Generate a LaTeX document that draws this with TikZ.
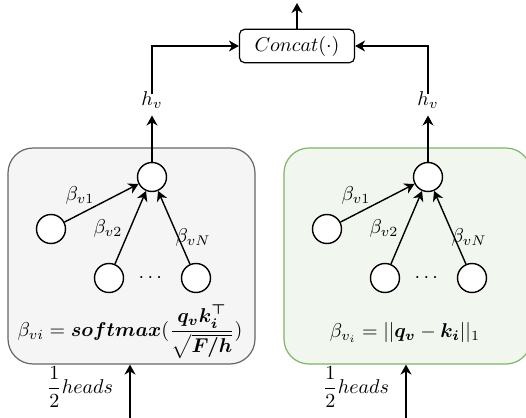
\documentclass[tikz,border=0pt]{standalone}
\usepackage{amsmath}
\usepackage{amssymb}
\usepackage{xcolor}
\usepackage{tikz}
\usetikzlibrary{arrows.meta}
\definecolor{boxGray}{HTML}{F5F5F5}
\definecolor{edgeGray}{HTML}{666666}
\definecolor{boxGreen}{HTML}{F1F6EF}
\definecolor{edgeGreen}{HTML}{82B366}

\begin{document}
\begin{tikzpicture}[x=0.5pt, y=-0.5pt,
  vertex/.style={circle, draw, line width=0.7pt, fill=white, minimum size=14.5pt, inner sep=0pt},
  arr/.style={-{Stealth[length=5pt, width=5.5pt, inset=1.6pt]}, line width=0.7pt},
  panel/.style={rounded corners=12.5pt, line width=0.6pt, minimum width=123.5pt, minimum height=108pt}]
  \clip (0, 0) rectangle (526, 418);
  \node[draw, rounded corners=2.5pt, line width=0.6pt, minimum width=57.5pt, minimum height=14.5pt] (concat) at (297, 46) {$Concat(\cdot)$};
  \coordinate (out) at (297, 3);
  \draw[arr] (concat) -- (out);
  \foreach \pre/\dx/\fillc/\linec in {l/0/boxGray/edgeGray, r/276/boxGreen/edgeGreen} {
    \node[panel, draw=\linec, fill=\fillc] (\pre Box) at (131.5+\dx, 256) {};
    \node[vertex] (\pre Top) at (152+\dx, 177) {};
    \node[vertex] (\pre One) at (51+\dx, 229) {};
    \node[vertex] (\pre Two) at (109+\dx, 278) {};
    \node[vertex] (\pre Last) at (196+\dx, 278) {};
    \node (\pre Dots) at (152+\dx, 278) {$\cdots$};
    \draw[arr] (\pre One) -- (\pre Top);
    \draw[arr] (\pre Two) -- (\pre Top);
    \draw[arr] (\pre Last) -- (\pre Top);
    \node (\pre BetaOne) at (80+\dx, 195) {$\beta_{v1}$};
    \node (\pre BetaTwo) at (108+\dx, 228) {$\beta_{v2}$};
    \node (\pre BetaN) at (193+\dx, 237) {$\beta_{vN}$};
    \node (\pre Hv) at (152+\dx, 100) {$h_v$};
    \draw[arr] (\pre Top) -- (\pre Hv);
    \draw[arr, shorten <=-5pt] (\pre Hv) |- (concat);
    \node (\pre Heads) at (80+\dx, 387) {$\dfrac{1}{2}heads$};
    \coordinate (\pre In) at (130+\dx, 418);
    \draw[arr] (\pre In) -- (\pre In |- \pre Box.south);
  }
  \node (lRule) at (130, 332) {$\beta_{vi} = \boldsymbol{softmax}(\dfrac{\boldsymbol{q_v k_i^\top}}{\sqrt{\boldsymbol{F/h}}})$};
  \node (rRule) at (405, 332) {$\beta_{v_i} = ||\boldsymbol{q_v} - \boldsymbol{k_i}||_1$};
\end{tikzpicture}
\end{document}
